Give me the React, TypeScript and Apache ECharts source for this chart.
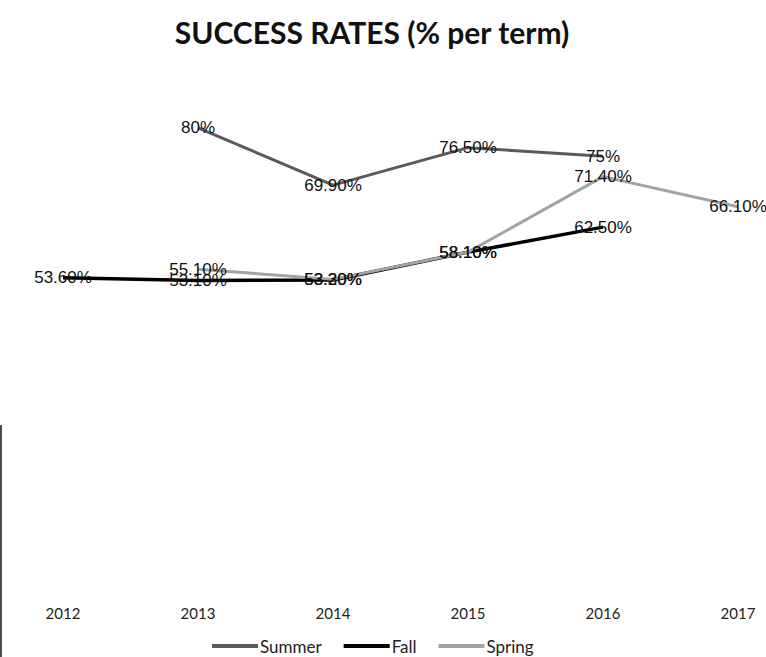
import React, { useEffect, useRef } from "react";
import * as echarts from "echarts";

const years = ["2012", "2013", "2014", "2015", "2016", "2017"];
const summer = [null, 80, 69.9, 76.5, 75, null];
const fall = [53.6, 53.1, 53.2, 58.1, 62.5, null];
const spring = [null, 55.1, 53.3, 58.1, 71.4, 66.1];

const labelFont = "'Liberation Sans', Arial, sans-serif";
const uiFont = "Lato, 'Open Sans', sans-serif";

const fmt = (p: any) => {
  const v = Number(p.value);
  return Number.isInteger(v) ? `${v}%` : `${v.toFixed(2)}%`;
};

const makeSeries = (name: string, data: (number | null)[], color: string, width: number) => ({
  name,
  type: "line",
  data,
  connectNulls: false,
  symbol: "circle",
  symbolSize: 0,
  showSymbol: true,
  itemStyle: { color },
  lineStyle: { color, width },
  label: {
    show: true,
    position: "inside",
    formatter: fmt,
    color: "#111",
    fontSize: 17,
    fontFamily: labelFont,
  },
});

export default function App() {
  const ref = useRef<HTMLDivElement>(null);

  useEffect(() => {
    if (!ref.current) return;
    const chart = echarts.init(ref.current, undefined, { renderer: "svg" });
    chart.setOption({
      animation: false,
      backgroundColor: "#ffffff",
      title: {
        text: "SUCCESS RATES (% per term)",
        left: 367,
        textAlign: "center",
        top: 12,
        textStyle: {
          fontFamily: uiFont,
          fontWeight: "bold",
          fontSize: 30,
          color: "#111",
        },
      },
      legend: {
        left: 212,
        top: 637,
        padding: 0,
        itemWidth: 46,
        itemHeight: 4,
        itemGap: 22,
        icon: "rect",
        textStyle: {
          fontFamily: uiFont,
          fontSize: 17,
          lineHeight: 18,
          color: "#222",
          padding: [0, 0, 0, -3],
        },
        data: ["Summer", "Fall", "Spring"],
      },
      grid: { left: 63, right: 28, top: 71, bottom: 75 },
      xAxis: {
        type: "category",
        data: years,
        boundaryGap: false,
        axisLine: { show: false },
        axisTick: { show: false },
        axisLabel: {
          margin: 23,
          fontSize: 15,
          color: "#222",
          fontFamily: uiFont,
        },
        splitLine: { show: false },
      },
      yAxis: {
        type: "value",
        min: 0,
        max: 90,
        show: false,
        splitLine: { show: false },
      },
      graphic: [
        {
          type: "line",
          shape: { x1: 1, y1: 425, x2: 1, y2: 657 },
          style: { stroke: "#111", lineWidth: 1.5 },
        },
      ],
      series: [
        makeSeries("Summer", summer, "#5a5a5a", 3),
        makeSeries("Fall", fall, "#000000", 3.5),
        makeSeries("Spring", spring, "#a3a3a3", 3),
      ],
    });
    return () => chart.dispose();
  }, []);

  return (
    <div
      ref={ref}
      style={{ position: "fixed", left: 0, top: 0, width: 766, height: 657 }}
    />
  );
}
